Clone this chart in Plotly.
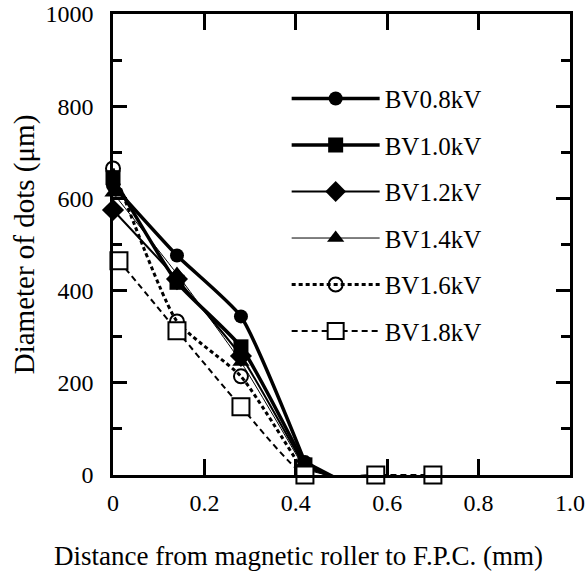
import plotly.graph_objects as go

# distance from magnetic roller to F.P.C. (mm)
x_pts = [0, 0.14, 0.28, 0.42]
x_open_sq = [0.013, 0.14, 0.28, 0.42, 0.575, 0.70]

names = ["BV0.8kV", "BV1.0kV", "BV1.2kV", "BV1.4kV", "BV1.6kV", "BV1.8kV"]
bv08 = [628, 476, 344, 28]
bv10 = [645, 418, 278, 22]
bv12 = [575, 425, 258, 16]
bv14 = [612, 436, 245, 12]
bv16 = [665, 333, 214, 2]
bv18 = [465, 313, 148, 0, 0, 0]

# where the solid curves run out, just past 0.4 mm
tail_x = [0.42, 0.49]
tail_y = {"BV0.8kV": [28, -8], "BV1.0kV": [22, -8], "BV1.2kV": [16, -6], "BV1.4kV": [12, -6]}

FONT = "Times New Roman, Liberation Serif, serif"

fig = go.Figure()

series = [
    (names[0], x_pts, bv08, "circle", 14, "solid", 3.5, "black"),
    (names[1], x_pts, bv10, "square", 15, "solid", 3.5, "black"),
    (names[2], x_pts, bv12, "diamond", 17, "solid", 2, "black"),
    (names[3], x_pts, bv14, "triangle-up", 15, "solid", 1, "black"),
    (names[4], x_pts, bv16, "circle-open", 14, "4px,3px", 3, "black"),
    (names[5], x_open_sq, bv18, "square", 17, "6px,4px", 2, "white"),
]

for i, (nm, xs, ys, sym, sz, dash, lw, fill) in enumerate(series):
    if nm in tail_y:
        fig.add_trace(go.Scatter(x=tail_x, y=tail_y[nm], mode="lines", showlegend=False,
                                 line=dict(color="black", width=lw, dash=dash)))
    fig.add_trace(go.Scatter(
        x=xs, y=ys, name=nm, mode="lines+markers", legendgroup=str(i),
        line=dict(color="black", width=lw, dash=dash, shape="spline", smoothing=0.5),
        marker=dict(symbol=sym, size=sz, color=fill,
                    line=dict(color="black", width=2 if fill == "white" or sym.endswith("open") else 0)),
        cliponaxis=False,
    ))

fig.update_layout(
    width=586, height=575,
    margin=dict(l=113, r=16, t=14, b=100),
    paper_bgcolor="white", plot_bgcolor="white",
    font=dict(family=FONT, size=24, color="black"),
    showlegend=True,
    legend=dict(x=0.38, y=0.866, xanchor="left", yanchor="top", bgcolor="rgba(0,0,0,0)",
                tracegroupgap=11, itemwidth=88, font=dict(size=25)),
    xaxis=dict(range=[0, 1.0], tickvals=[0, 0.2, 0.4, 0.6, 0.8, 1.0],
               ticktext=["0", "0.2", "0.4", "0.6", "0.8", "1.0"],
               ticks="inside", ticklen=16, tickwidth=2.5, tickcolor="black",
               showline=True, linewidth=2.5, linecolor="black", mirror="ticks",
               showgrid=False, zeroline=False, ticklabelstandoff=4, automargin=False),
    yaxis=dict(range=[0, 1000], dtick=200, ticks="inside", ticklen=14, tickwidth=2.5,
               tickcolor="black", showline=True, linewidth=2.5, linecolor="black",
               mirror="ticks", showgrid=False, zeroline=False, ticklabelstandoff=12,
               automargin=False,
               minor=dict(dtick=100, ticks="inside", ticklen=9, tickwidth=2.5, tickcolor="black"),
               title=dict(text="Diameter of dots (μm)", standoff=3)),
    annotations=[dict(text="Distance from magnetic roller to F.P.C. (mm)", xref="paper", yref="paper",
                      x=0.407, y=-0.176, xanchor="center", yanchor="middle", showarrow=False,
                      font=dict(family=FONT, size=27))],
)

# drop the default 8px body margin so the figure fills the window exactly
fig.write_html("out.html", config={"displayModeBar": False},
               post_script="document.body.style.margin = '0px';")
